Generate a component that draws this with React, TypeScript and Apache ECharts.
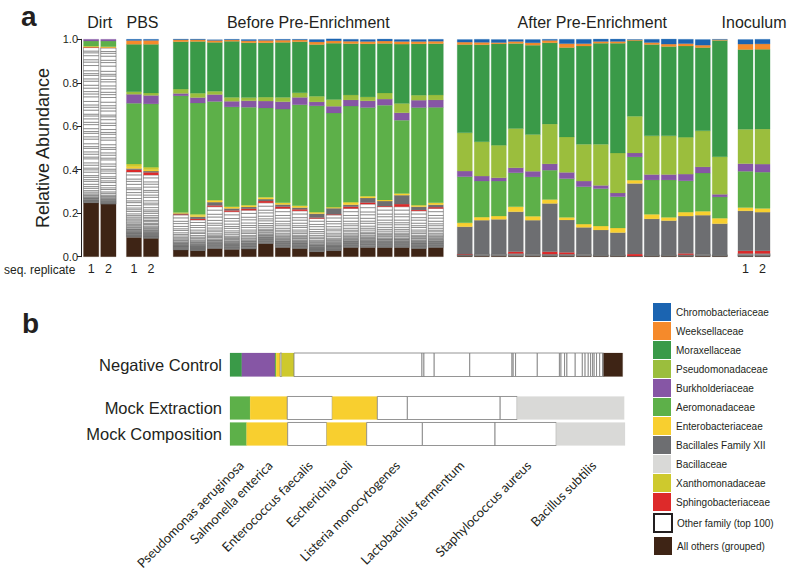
import React, { useEffect, useRef } from 'react';
import * as echarts from 'echarts';

// ---------- families (legend order) ----------
const familyNames = [
  'Chromobacteriaceae', 'Weeksellaceae', 'Moraxellaceae', 'Pseudomonadaceae', 'Burkholderiaceae',
  'Aeromonadaceae', 'Enterobacteriaceae', 'Bacillales Family XII', 'Bacillaceae', 'Xanthomonadaceae',
  'Sphingobacteriaceae', 'Other family (top 100)', 'All others (grouped)',
];
const familyColors = [
  '#1b64b1', '#f58a2b', '#3a9a48', '#9bbe3d', '#8656a5', '#5db049', '#f8cf2f', '#6d6e71', '#d9d9d7',
  '#cec92d', '#dd2a2a', '#ffffff', '#3e2415',
];

// ---------- panel a ----------
const groupTitles = ['Dirt', 'PBS', 'Before Pre-Enrichment', 'After Pre-Enrichment', 'Inoculum'];
const groupSizes = [2, 2, 16, 16, 2];
const replicateLabels = ['1', '2'];

// relative abundance per bar: Dirt(2) PBS(2) Before(16) After(16) Inoculum(2)
const allOthers = [
  0.248, 0.242,
  0.090, 0.085,
  0.031, 0.028, 0.038, 0.034, 0.035, 0.061, 0.043, 0.038, 0.023, 0.028, 0.043, 0.043, 0.043, 0.043, 0.038, 0.043,
  0.004, 0.004, 0.004, 0.005, 0.004, 0.004, 0.004, 0.004, 0.003, 0.003, 0.001, 0.003, 0.003, 0.003, 0.004, 0.003,
  0.003, 0.003,
];
const otherFamily = [
  0.714, 0.718,
  0.300, 0.291,
  0.161, 0.141, 0.192, 0.173, 0.179, 0.187, 0.179, 0.173, 0.153, 0.164, 0.179, 0.199, 0.187, 0.187, 0.173, 0.179,
  0.006, 0.008, 0.008, 0.010, 0.008, 0.008, 0.008, 0.008, 0.005, 0.005, 0.002, 0.005, 0.005, 0.006, 0.008, 0.005,
  0.012, 0.012,
];
const sphingobacteriaceae = [
  0.002, 0.002,
  0.010, 0.012,
  0.003, 0.005, 0.006, 0.006, 0.006, 0.008, 0.008, 0.007, 0.004, 0.003, 0.008, 0.007, 0.003, 0.012, 0.004, 0.006,
  0.002, 0, 0, 0.008, 0, 0.011, 0.008, 0, 0, 0, 0.009, 0, 0, 0.006, 0, 0,
  0.012, 0.012,
];
const bacillalesXII = [
  0, 0,
  0.006, 0.006,
  0.004, 0.010, 0.015, 0.009, 0.009, 0.009, 0.010, 0.008, 0.018, 0.028, 0.009, 0.021, 0.023, 0.041, 0.015, 0.011,
  0.126, 0.156, 0.160, 0.184, 0.156, 0.222, 0.149, 0.123, 0.115, 0.103, 0.325, 0.166, 0.158, 0.172, 0.179, 0.144,
  0.184, 0.178,
];
const enterobacteriaceae = [
  0.004, 0.004,
  0.008, 0.006,
  0.004, 0.006, 0.009, 0.008, 0.008, 0.008, 0.008, 0.008, 0.007, 0.005, 0.012, 0.008, 0.005, 0.008, 0.007, 0.009,
  0.018, 0.014, 0.015, 0.023, 0.018, 0.018, 0.012, 0.015, 0.018, 0.021, 0.015, 0.021, 0.015, 0.018, 0.018, 0.025,
  0.015, 0.017,
];
const xanthomonadaceae = [
  0, 0,
  0.012, 0.012,
  0, 0.005, 0, 0, 0, 0, 0, 0, 0, 0, 0, 0, 0, 0, 0, 0,
  0, 0, 0, 0, 0, 0, 0, 0, 0, 0, 0, 0, 0, 0, 0, 0,
  0, 0,
];
const aeromonadaceae = [
  0.024, 0.026,
  0.280, 0.291,
  0.537, 0.512, 0.454, 0.459, 0.451, 0.411, 0.431, 0.465, 0.489, 0.433, 0.442, 0.408, 0.436, 0.337, 0.449, 0.439,
  0.212, 0.166, 0.161, 0.156, 0.181, 0.135, 0.178, 0.172, 0.172, 0.144, 0.107, 0.158, 0.172, 0.144, 0.176, 0.098,
  0.167, 0.167,
];
const burkholderiaceae = [
  0.008, 0.008,
  0.041, 0.039,
  0.011, 0.025, 0.032, 0.026, 0.029, 0.032, 0.034, 0.034, 0.018, 0.031, 0.028, 0.031, 0.028, 0.034, 0.034, 0.034,
  0.026, 0.023, 0.015, 0.023, 0.026, 0.029, 0.029, 0.026, 0.015, 0.017, 0.018, 0.025, 0.025, 0.031, 0.028, 0.012,
  0.035, 0.037,
];
const pseudomonadaceae = [
  0, 0,
  0.012, 0.011,
  0.020, 0.020, 0.015, 0.018, 0.015, 0.018, 0.020, 0.021, 0.026, 0.031, 0.023, 0.018, 0.028, 0.043, 0.023, 0.023,
  0.176, 0.158, 0.150, 0.181, 0.169, 0.183, 0.163, 0.169, 0.189, 0.184, 0.169, 0.178, 0.178, 0.170, 0.166, 0.173,
  0.158, 0.161,
];
const moraxellaceae = [
  0, 0,
  0.218, 0.224,
  0.218, 0.238, 0.225, 0.258, 0.252, 0.250, 0.253, 0.235, 0.238, 0.259, 0.236, 0.244, 0.228, 0.273, 0.236, 0.236,
  0.406, 0.446, 0.466, 0.391, 0.411, 0.374, 0.411, 0.452, 0.465, 0.505, 0.348, 0.420, 0.411, 0.419, 0.383, 0.535,
  0.367, 0.367,
];
const weeksellaceae = [
  0, 0,
  0.018, 0.018,
  0.009, 0.008, 0.009, 0.006, 0.009, 0.011, 0.010, 0.008, 0.012, 0.011, 0.011, 0.011, 0.011, 0.012, 0.011, 0.011,
  0.011, 0.011, 0.006, 0.009, 0.011, 0.011, 0.018, 0.011, 0.008, 0.008, 0.003, 0.009, 0.011, 0.011, 0.011, 0.003,
  0.025, 0.025,
];
const chromobacteriaceae = [
  0, 0,
  0.005, 0.005,
  0.003, 0.003, 0.003, 0.003, 0.006, 0.004, 0.004, 0.003, 0.011, 0.009, 0.009, 0.009, 0.009, 0.009, 0.009, 0.009,
  0.012, 0.014, 0.014, 0.009, 0.015, 0.005, 0.020, 0.020, 0.011, 0.011, 0.002, 0.015, 0.023, 0.020, 0.026, 0.002,
  0.021, 0.021,
];

// relative sizes of the individual "other family" stripes inside each group's other-family block (bottom -> top)
const dirtStripes = [1, 1, 1, 1, 1, 1, 1.5, 1, 1.5, 2, 1.5, 2, 3, 2.5, 4, 3, 4, 5, 3, 4, 3, 6, 4, 3, 5, 4, 7, 3, 5, 4, 6, 3, 5, 8, 4, 6, 3, 5, 7, 4, 6, 5, 3, 7, 5, 4, 6, 8, 5, 4, 6, 5, 7, 4, 6, 3, 5, 9, 6, 4, 7, 5, 3, 6];
const pbsStripes = [1, 1, 1, 1, 1, 1, 1, 1, 1, 1, 1.5, 1.5, 1, 2, 1.5, 2, 2, 2.5, 2, 3, 2, 3, 2.5, 3, 4, 3, 3, 4, 5, 3, 4, 6, 4, 5, 3, 6, 5, 4, 7, 5];
const beforeStripes = [1, 1, 1, 1, 1, 1, 1, 1, 1, 1, 1.5, 1, 1.5, 2, 1.5, 2, 2, 3, 2.5, 3, 4, 3, 4, 5, 4, 6, 5];
const afterStripes = [1, 1, 1];
const inoculumStripes = [1, 1, 2, 2];

// ---------- panel b ----------
const rowNegative = ['Negative Control'];
const rowMock = ['Mock Extraction', 'Mock Composition'];
const negControlFamily = [2, 4, 5, 6, 11, 9, 11, 11, 11, 11, 11, 11, 11, 11, 11, 11, 11, 11, 11, 11, 11, 11, 11, 11, 11, 11, 11, 11, 11, 12];
const negControlValues = [0.030, 0.084, 0.003, 0.010, 0.004, 0.031, 0.324, 0.005, 0.026, 0.090, 0.107, 0.003, 0.006, 0.055, 0.056, 0.004, 0.009, 0.006, 0.021, 0.018, 0.007, 0.008, 0.006, 0.005, 0.004, 0.006, 0.008, 0.007, 0.003, 0.048];
const mockFamily = [5, 6, 11, 6, 11, 11, 11, 8];
const mockExtractionValues = [0.051, 0.094, 0.114, 0.114, 0.076, 0.235, 0.043, 0.271];
const mockCompositionValues = [0.042, 0.104, 0.099, 0.101, 0.141, 0.184, 0.155, 0.174];
const speciesNames = [
  'Pseudomonas aeruginosa', 'Salmonella enterica', 'Enterococcus faecalis', 'Escherichia coli',
  'Listeria monocytogenes', 'Lactobacillus fermentum', 'Staphylococcus aureus', 'Bacillus subtilis',
];

const FONT = '"Liberation Sans", Arial, Helvetica, sans-serif';
const INK = '#231f20';

export default function App() {
  const ref = useRef<HTMLDivElement>(null);

  useEffect(() => {
    if (!ref.current) return;
    const chart = echarts.init(ref.current, null, { renderer: 'svg' });

    const stackOrder = [12, 11, 10, 7, 6, 9, 5, 4, 3, 2, 1, 0];
    const valuesByFamily: Record<number, number[]> = {
      12: allOthers, 11: otherFamily, 10: sphingobacteriaceae, 7: bacillalesXII, 6: enterobacteriaceae,
      9: xanthomonadaceae, 5: aeromonadaceae, 4: burkholderiaceae, 3: pseudomonadaceae, 2: moraxellaceae,
      1: weeksellaceae, 0: chromobacteriaceae,
    };
    const stripeTemplates = [dirtStripes, pbsStripes, beforeStripes, afterStripes, inoculumStripes];

    // layout of the five panel-a grids
    const gridLefts = [82.5, 125.5, 172.3, 456.3, 737];
    const gridWidths = [34.5, 34, 272, 272, 34];
    const gTop = 39.3;
    const gHeight = 217.4;

    const grids: any[] = [];
    const xAxes: any[] = [];
    const yAxes: any[] = [];
    const series: any[] = [];

    const renderVertical = (params: any, api: any) => {
      const cat = api.value(0);
      const p0 = api.coord([cat, api.value(1)]);
      const p1 = api.coord([cat, api.value(2)]);
      const fi = api.value(3);
      const bw = api.size([1, 0])[0] * 0.89;
      const stripe = fi === 11;
      return {
        type: 'rect',
        shape: { x: p0[0] - bw / 2, y: p1[1], width: bw, height: Math.max(p0[1] - p1[1], 0) },
        style: stripe
          ? { fill: '#ffffff', stroke: '#4d4d4d', lineWidth: 0.5 }
          : { fill: familyColors[fi], stroke: familyColors[fi], lineWidth: 0.2 },
      };
    };

    let offset = 0;
    groupSizes.forEach((size, g) => {
      grids.push({ left: gridLefts[g], top: gTop, width: gridWidths[g], height: gHeight });
      const showLabels = size === 2;
      xAxes.push({
        type: 'category', gridIndex: g,
        data: showLabels ? replicateLabels : Array.from({ length: size }, () => ''),
        axisLine: { show: false }, axisTick: { show: false },
        axisLabel: { show: showLabels, fontSize: 12.5, color: INK, margin: 6, fontFamily: FONT },
      });
      if (g === 0) {
        yAxes.push({
          type: 'value', gridIndex: g, min: 0, max: 1, interval: 0.2, offset: 1.5,
          axisLine: { show: true, lineStyle: { color: INK, width: 1 } },
          axisTick: { show: true, length: 4, lineStyle: { color: INK } },
          axisLabel: { fontSize: 11, color: INK, margin: 3, fontFamily: FONT, formatter: (v: number) => v.toFixed(1) },
          splitLine: { show: false },
          name: 'Relative Abundance', nameLocation: 'middle', nameGap: 29,
          nameTextStyle: { fontSize: 18, color: INK, fontFamily: FONT },
        });
      } else {
        yAxes.push({ type: 'value', gridIndex: g, min: 0, max: 1, interval: 0.2, show: false, splitLine: { show: false } });
      }
      const data: number[][] = [];
      for (let i = 0; i < size; i++) {
        const idx = offset + i;
        let cum = 0;
        stackOrder.forEach((f) => {
          const v = valuesByFamily[f][idx];
          if (!(v > 0)) return;
          if (f === 11) {
            const tpl = stripeTemplates[g];
            const tot = tpl.reduce((a, b) => a + b, 0);
            tpl.forEach((t) => {
              const h = (v * t) / tot;
              data.push([i, cum, cum + h, 11]);
              cum += h;
            });
          } else {
            data.push([i, cum, cum + v, f]);
            cum += v;
          }
        });
      }
      series.push({
        type: 'custom', name: groupTitles[g], xAxisIndex: g, yAxisIndex: g,
        renderItem: renderVertical, data, encode: { x: 0, y: [1, 2] }, silent: true,
      });
      offset += size;
    });

    // panel b grids
    grids.push({ left: 230, top: 353, width: 395, height: 23.5 });
    grids.push({ left: 230, top: 395, width: 395, height: 52 });
    [5, 6].forEach((gi) => {
      xAxes.push({ type: 'value', gridIndex: gi, min: 0, max: 1, show: false, splitLine: { show: false } });
    });
    yAxes.push({
      type: 'category', gridIndex: 5, data: rowNegative,
      axisLine: { show: false }, axisTick: { show: false },
      axisLabel: { fontSize: 16.5, color: INK, margin: 8, fontFamily: FONT },
    });
    yAxes.push({
      type: 'category', gridIndex: 6, data: rowMock, inverse: true,
      axisLine: { show: false }, axisTick: { show: false },
      axisLabel: { fontSize: 16.5, color: INK, margin: 8, fontFamily: FONT },
    });

    const makeRenderH = (frac: number) => (params: any, api: any) => {
      const row = api.value(1);
      const p0 = api.coord([api.value(0), row]);
      const p1 = api.coord([api.value(2), row]);
      const fi = api.value(3);
      const bh = api.size([0, 1])[1] * frac;
      const white = fi === 11;
      return {
        type: 'rect',
        shape: { x: p0[0], y: p0[1] - bh / 2, width: Math.max(p1[0] - p0[0], 0), height: bh },
        style: white
          ? { fill: '#ffffff', stroke: '#7a7a7a', lineWidth: 0.8 }
          : { fill: familyColors[fi], stroke: familyColors[fi], lineWidth: 0.2 },
      };
    };
    const rowData = (fams: number[], vals: number[], row: number) => {
      const out: number[][] = [];
      let c = 0;
      vals.forEach((v, i) => {
        out.push([c, row, c + v, fams[i]]);
        c += v;
      });
      return out;
    };
    series.push({
      type: 'custom', name: 'Negative Control', xAxisIndex: 5, yAxisIndex: 5,
      renderItem: makeRenderH(1), data: rowData(negControlFamily, negControlValues, 0),
      encode: { x: [0, 2], y: 1 }, silent: true,
    });
    series.push({
      type: 'custom', name: 'Mock', xAxisIndex: 6, yAxisIndex: 6,
      renderItem: makeRenderH(0.885),
      data: [...rowData(mockFamily, mockExtractionValues, 0), ...rowData(mockFamily, mockCompositionValues, 1)],
      encode: { x: [0, 2], y: 1 }, silent: true,
    });

    // legend carriers
    familyNames.forEach((name, i) => {
      series.push({
        type: 'bar', name, xAxisIndex: 0, yAxisIndex: 0, data: [],
        itemStyle: i === 11
          ? { color: '#ffffff', borderColor: INK, borderWidth: 1.5 }
          : { color: familyColors[i] },
      });
    });

    const legendCommon = {
      orient: 'vertical', left: 653, itemWidth: 18, itemHeight: 18, icon: 'rect', padding: 0,
      selectedMode: false, textStyle: { fontSize: 10, color: INK, fontFamily: FONT },
    };

    chart.setOption({
      animation: false,
      backgroundColor: '#ffffff',
      textStyle: { fontFamily: FONT },
      grid: grids,
      xAxis: xAxes,
      yAxis: yAxes,
      legend: [
        { ...legendCommon, top: 303, itemGap: 1, data: familyNames.slice(0, 11) },
        { ...legendCommon, top: 513, itemGap: 4, data: familyNames.slice(11) },
      ],
      series,
    });

    // species labels anchored at composition segment centres
    const centres: number[] = [];
    let cc = 0;
    mockCompositionValues.forEach((v) => {
      centres.push(cc + v / 2);
      cc += v;
    });
    const speciesGraphics = speciesNames.map((name, i) => {
      const px = chart.convertToPixel({ xAxisIndex: 6 }, centres[i]) as unknown as number;
      return {
        type: 'text', x: px + 3, y: 463, rotation: Math.PI / 4,
        style: { text: name, align: 'right', verticalAlign: 'middle', fontSize: 13, fontFamily: 'Lato, "Open Sans", sans-serif', fill: INK },
      };
    });
    const titleGraphics = groupTitles.map((t, g) => ({
      type: 'text', x: gridLefts[g] + gridWidths[g] / 2, y: 22.5,
      style: { text: t, align: 'center', verticalAlign: 'middle', fontSize: 16, fontFamily: FONT, fill: INK },
    }));

    chart.setOption({
      graphic: [
        ...titleGraphics,
        { type: 'text', x: 21, y: 16, style: { text: 'a', fontSize: 28, fontWeight: 'bold', fontFamily: FONT, fill: INK, align: 'left', verticalAlign: 'middle' } },
        { type: 'text', x: 22, y: 323, style: { text: 'b', fontSize: 28, fontWeight: 'bold', fontFamily: FONT, fill: INK, align: 'left', verticalAlign: 'middle' } },
        { type: 'text', x: 4, y: 270, style: { text: 'seq. replicate', fontSize: 12, fontFamily: FONT, fill: INK, align: 'left', verticalAlign: 'middle' } },
        ...speciesGraphics,
      ],
    });

    return () => chart.dispose();
  }, []);

  return (
    <div
      ref={ref}
      style={{ position: 'fixed', left: 0, top: 0, width: 788, height: 572, background: '#ffffff' }}
    />
  );
}
